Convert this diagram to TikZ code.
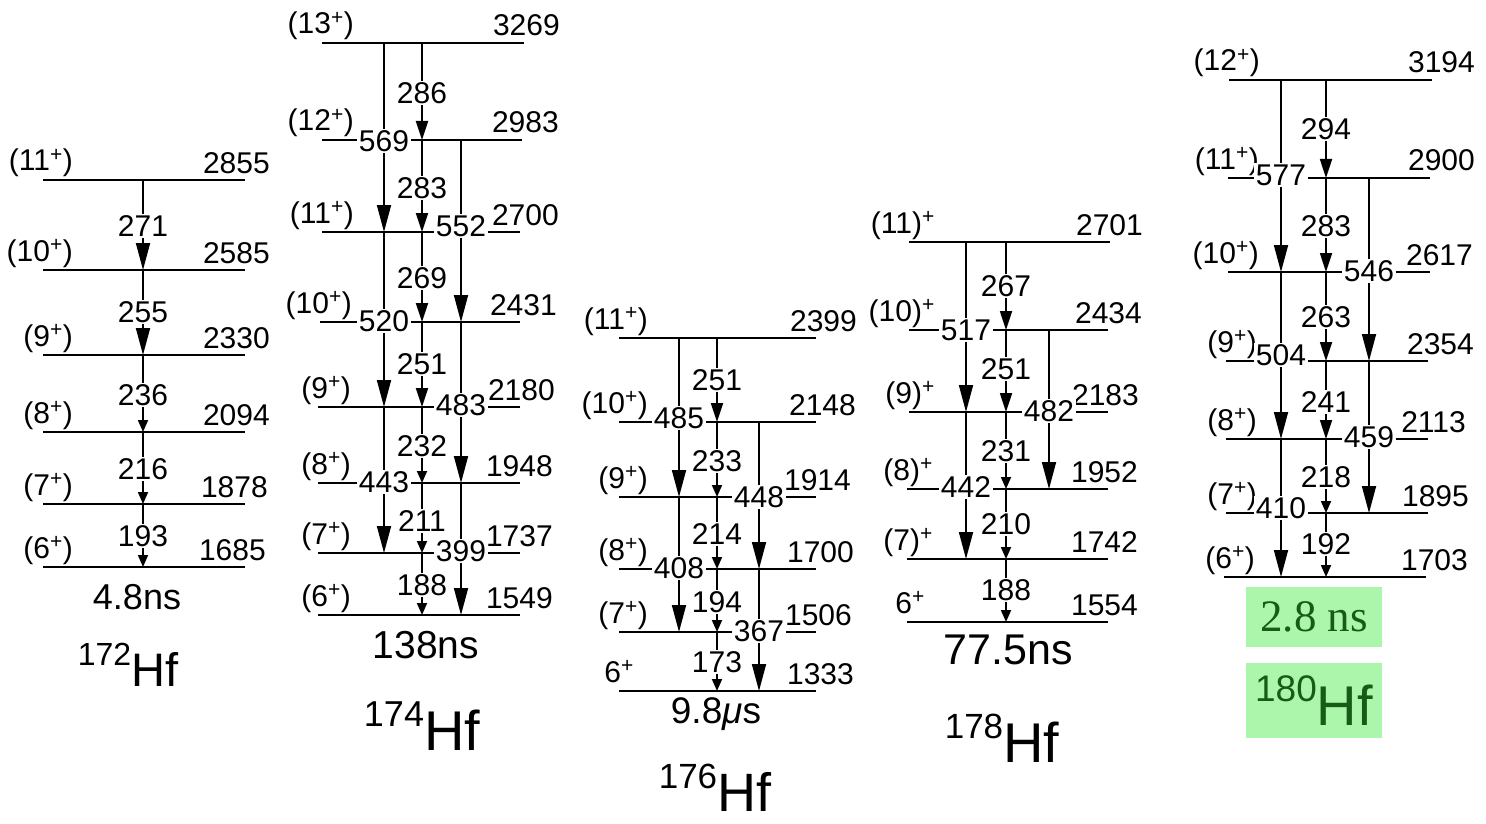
\documentclass[tikz,border=0pt]{standalone}
\usepackage{fontspec}
\setmainfont{Liberation Sans}
\newfontfamily\greenserif{Liberation Serif}
\usetikzlibrary{arrows.meta}
\pgfdeclarelayer{fg}
\pgfsetlayers{main,fg}
\definecolor{boxgreen}{RGB}{172,246,172}
\definecolor{txtgreen}{RGB}{22,92,22}
\tikzset{
  levline/.style={line width=2.6pt},
  trans/.style={line width=1.8pt},
  bigtip/.style={-{Triangle[length=27pt,width=14pt]}},
  midtip/.style={-{Triangle[length=19pt,width=12pt]}},
  smalltip/.style={-{Triangle[length=12pt,width=10pt]}},
  num/.style={font=\fontsize{30}{30}\selectfont, inner sep=0pt},
  glab/.style={num, fill=white, inner sep=1.5pt},
  life/.style={inner sep=0pt},
}
% spin labels
\newcommand\spn[1]{(#1\textsuperscript{+})}
\newcommand\spo[1]{(#1)\textsuperscript{+}}
\newcommand\spz[1]{#1\textsuperscript{+}}
% level: name, x1, x2, y, spin, energy, right edge of energy text, spin offset
\newcommand\lvl[8]{%
  \draw[levline] (#2,#4) -- (#3,#4);
  \node[num, anchor=base east] (s#1) at (#2+#8,#4-9) {#5};
  \node[num, anchor=base east] (e#1) at (#7,#4-7) {#6};
}
% gamma: tip style, x, y top, y bottom, label, label y
\newcommand\gam[6]{%
  \draw[trans,#1] (#2,#3) -- (#2,#4);
  \begin{pgfonlayer}{fg}\node[glab] (g#2-#5) at (#2,#6) {#5};\end{pgfonlayer}
}
\newcommand\nuc[4]{{\fontsize{#2}{#2}\selectfont\raisebox{#4}{#1}}{\fontsize{#3}{#3}\selectfont Hf}}

\begin{document}
\begin{tikzpicture}[x=1pt,y=-1pt]
\useasboundingbox (0,0) rectangle (1486,824);

% ---------------- 172Hf ----------------
\lvl{a1}{43}{245}{180}{\spn{11}}{2855}{270}{30}
\lvl{a2}{43}{245}{270}{\spn{10}}{2585}{270}{30}
\lvl{a3}{43}{245}{355}{\spn{9}}{2330}{270}{30}
\lvl{a4}{43}{245}{432}{\spn{8}}{2094}{270}{30}
\lvl{a5}{43}{245}{504}{\spn{7}}{1878}{268}{30}
\lvl{a6}{43}{245}{567}{\spn{6}}{1685}{266}{30}
\gam{bigtip}{143}{180}{270}{271}{226}
\gam{bigtip}{143}{270}{355}{255}{312}
\gam{smalltip}{143}{355}{432}{236}{395}
\gam{smalltip}{143}{432}{504}{216}{469}
\gam{smalltip}{143}{504}{567}{193}{536}
\node[life, font=\fontsize{36}{36}\selectfont] (t172) at (137,597) {4.8ns};
\node[life] (n172) at (128,665) {\nuc{172}{32}{47}{21pt}};

% ---------------- 174Hf ----------------
\lvl{b1}{322}{524}{43}{\spn{13}}{3269}{560}{32}
\lvl{b2}{322}{522}{140}{\spn{12}}{2983}{559}{32}
\lvl{b3}{322}{520}{232}{\spn{11}}{2700}{559}{32}
\lvl{b4}{320}{520}{322}{\spn{10}}{2431}{557}{32}
\lvl{b5}{318}{520}{407}{\spn{9}}{2180}{555}{33}
\lvl{b6}{318}{520}{483}{\spn{8}}{1948}{553}{33}
\lvl{b7}{318}{520}{553}{\spn{7}}{1737}{553}{33}
\lvl{b8}{318}{520}{615}{\spn{6}}{1549}{553}{33}
\gam{midtip}{422}{43}{140}{286}{93}
\gam{midtip}{422}{140}{232}{283}{188}
\gam{midtip}{422}{232}{322}{269}{278}
\gam{midtip}{422}{322}{407}{251}{364}
\gam{smalltip}{422}{407}{483}{232}{446}
\gam{smalltip}{422}{483}{553}{211}{521}
\gam{smalltip}{422}{553}{615}{188}{585}
\gam{bigtip}{384}{43}{232}{569}{141}
\gam{bigtip}{384}{232}{407}{520}{321}
\gam{bigtip}{384}{407}{553}{443}{482}
\gam{bigtip}{461}{140}{322}{552}{226}
\gam{bigtip}{461}{322}{483}{483}{405}
\gam{bigtip}{461}{483}{615}{399}{551}
\node[life, font=\fontsize{39}{39}\selectfont] (t174) at (426,645) {138ns};
\node[life] (n174) at (422,726) {\nuc{174}{36}{56}{24pt}};

% ---------------- 176Hf ----------------
\lvl{c1}{619}{816}{338}{\spn{11}}{2399}{857}{29}
\lvl{c2}{619}{816}{422}{\spn{10}}{2148}{856}{29}
\lvl{c3}{619}{816}{497}{\spn{9}}{1914}{851}{29}
\lvl{c4}{619}{816}{569}{\spn{8}}{1700}{854}{29}
\lvl{c5}{619}{816}{632}{\spn{7}}{1506}{852}{29}
\lvl{c6}{619}{816}{691}{\spz{6}}{1333}{854}{15}
\gam{midtip}{717}{338}{422}{251}{380}
\gam{smalltip}{717}{422}{497}{233}{461}
\gam{smalltip}{717}{497}{569}{214}{534}
\gam{smalltip}{717}{569}{632}{194}{602}
\gam{smalltip}{717}{632}{691}{173}{662}
\gam{bigtip}{679}{338}{497}{485}{418}
\gam{bigtip}{679}{497}{632}{408}{568}
\gam{bigtip}{759}{422}{569}{448}{497}
\gam{bigtip}{759}{569}{691}{367}{631}
\node[life, font=\fontsize{37}{37}\selectfont] (t176) at (716,714) {9.8{\itshape μ}s};
\node[life] (n176) at (715,788) {\nuc{176}{35}{54}{23pt}};

% ---------------- 178Hf ----------------
\lvl{d1}{909}{1110}{242}{\spo{11}}{2701}{1143}{26}
\lvl{d2}{909}{1108}{330}{\spo{10}}{2434}{1142}{26}
\lvl{d3}{909}{1108}{412}{\spo{9}}{2183}{1139}{26}
\lvl{d4}{907}{1108}{489}{\spo{8}}{1952}{1138}{26}
\lvl{d5}{907}{1108}{559}{\spo{7}}{1742}{1138}{26}
\lvl{d6}{907}{1108}{622}{\spz{6}}{1554}{1138}{18}
\gam{midtip}{1006}{242}{330}{267}{286}
\gam{midtip}{1006}{330}{412}{251}{369}
\gam{smalltip}{1006}{412}{489}{231}{451}
\gam{smalltip}{1006}{489}{559}{210}{524}
\gam{smalltip}{1006}{559}{622}{188}{590}
\gam{bigtip}{966}{242}{412}{517}{330}
\gam{bigtip}{966}{412}{559}{442}{487}
\gam{bigtip}{1049}{330}{489}{482}{411}
\node[life, font=\fontsize{43}{43}\selectfont] (t178) at (1008,650) {77.5ns};
\node[life] (n178) at (1002,738) {\nuc{178}{35}{56}{24pt}};

% ---------------- 180Hf ----------------
\lvl{f1}{1229}{1432}{80}{\spn{12}}{3194}{1475}{31}
\lvl{f2}{1228}{1430}{178}{\spn{11}}{2900}{1475}{31}
\lvl{f3}{1228}{1430}{272}{\spn{10}}{2617}{1473}{31}
\lvl{f4}{1226}{1428}{361}{\spn{9}}{2354}{1474}{31}
\lvl{f5}{1226}{1428}{439}{\spn{8}}{2113}{1466}{31}
\lvl{f6}{1226}{1428}{513}{\spn{7}}{1895}{1469}{31}
\lvl{f7}{1224}{1426}{577}{\spn{6}}{1703}{1468}{31}
\gam{midtip}{1326}{80}{178}{294}{129}
\gam{midtip}{1326}{178}{272}{283}{226}
\gam{midtip}{1326}{272}{361}{263}{317}
\gam{midtip}{1326}{361}{439}{241}{402}
\gam{smalltip}{1326}{439}{513}{218}{477}
\gam{smalltip}{1326}{513}{577}{192}{544}
\gam{bigtip}{1281}{80}{272}{577}{175}
\gam{bigtip}{1281}{272}{439}{504}{355}
\gam{bigtip}{1281}{439}{577}{410}{508}
\gam{bigtip}{1369}{178}{361}{546}{271}
\gam{bigtip}{1369}{361}{513}{459}{437}
\node[fill=boxgreen, minimum width=136pt, minimum height=60pt, inner sep=0pt,
      text=txtgreen, font=\greenserif\fontsize{45}{45}\selectfont] (t180) at (1314,617) {2.8 ns};
\node[fill=boxgreen, minimum width=136pt, minimum height=75pt, inner sep=0pt,
      text=txtgreen] (n180) at (1314,700.5) {\nuc{180}{37}{56}{24pt}};
\end{tikzpicture}
\end{document}
